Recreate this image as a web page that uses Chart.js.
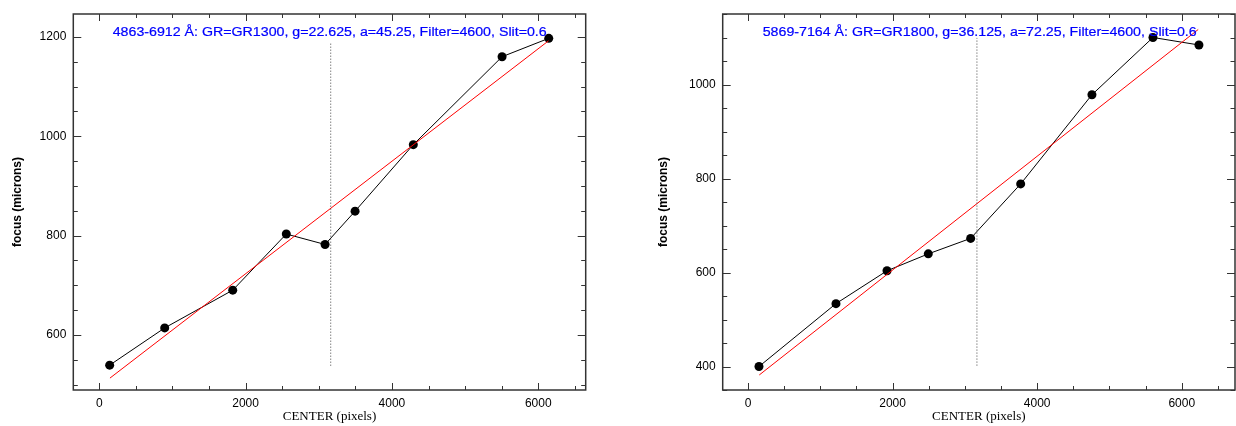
<!DOCTYPE html>
<html><head><meta charset="utf-8">
<script src="https://cdn.jsdelivr.net/npm/chart.js@4.4.0/dist/chart.umd.min.js"></script>
<style>html,body{margin:0;padding:0;background:#fff;overflow:hidden}
canvas{position:absolute;top:0}
</style></head><body>
<canvas id="c1" width="618" height="426" style="left:0"></canvas>
<canvas id="c2" width="618" height="426" style="left:618px"></canvas>
<script>
// ----- Left panel data -----
const leftCenter = [142, 894, 1824, 2556, 3086, 3496, 4292, 5505, 6143];
const leftFocus  = [539, 614, 690, 803, 782, 849, 983, 1160, 1197];
const leftFitX   = [146, 6140];
const leftFitY   = [513, 1192];
const leftRefX   = [3163, 3163];
const leftRefY   = [538, 1190];
const leftTitle  = "4863-6912 Å: GR=GR1300, g=22.625, a=45.25, Filter=4600, Slit=0.6";
const leftXRange = [-355, 6648];
const leftYRange = [489, 1246];
const leftXTicks = [0, 2000, 4000, 6000];
const leftYTicks = [600, 800, 1000, 1200];

// ----- Right panel data -----
const rightCenter = [152, 1217, 1923, 2494, 3080, 3772, 4758, 5602, 6238];
const rightFocus  = [400, 534, 604, 640, 673, 789, 979, 1101, 1085];
const rightFitX   = [156, 6228];
const rightFitY   = [382, 1118];
const rightRefX   = [3167, 3167];
const rightRefY   = [402, 1100];
const rightTitle  = "5869-7164 Å: GR=GR1800, g=36.125, a=72.25, Filter=4600, Slit=0.6";
const rightXRange = [-350, 6737];
const rightYRange = [350, 1151];
const rightXTicks = [0, 2000, 4000, 6000];
const rightYTicks = [400, 600, 800, 1000];

const xMajorStep = 2000, xMinorStep = 500;
const yMajorStep = 200,  yMinorStep = 50;
const xTitle = "CENTER (pixels)";
const yTitle = "focus (microns)";

const zip = (xs, ys) => xs.map((x, i) => ({x, y: ys[i]}));

const framePlugin = {
  id: 'frame',
  afterDatasetsDraw(chart) {
    const {ctx, chartArea: a, scales: {x, y}} = chart;
    ctx.save();
    ctx.strokeStyle = '#333';
    ctx.lineWidth = 1.5;
    ctx.strokeRect(a.left, a.top, a.right - a.left, a.bottom - a.top);
    ctx.lineWidth = 1;
    ctx.beginPath();
    const xs = Math.ceil(x.min / xMinorStep) * xMinorStep;
    for (let v = xs; v <= x.max; v += xMinorStep) {
      const p = Math.round(x.getPixelForValue(v)) + 0.5;
      const L = (v % xMajorStep === 0) ? 7 : 4;
      ctx.moveTo(p, a.bottom); ctx.lineTo(p, a.bottom - L);
      ctx.moveTo(p, a.top); ctx.lineTo(p, a.top + L);
    }
    const ys = Math.ceil(y.min / yMinorStep) * yMinorStep;
    for (let v = ys; v <= y.max; v += yMinorStep) {
      const p = Math.round(y.getPixelForValue(v)) + 0.5;
      const L = (v % yMajorStep === 0) ? 8 : 4.5;
      ctx.moveTo(a.left, p); ctx.lineTo(a.left + L, p);
      ctx.moveTo(a.right, p); ctx.lineTo(a.right - L, p);
    }
    ctx.stroke();
    // panel caption
    const o = chart.options.plugins.frame;
    ctx.font = '12px "Liberation Sans", Arial, sans-serif';
    ctx.fillStyle = '#0000ff';
    ctx.strokeStyle = '#0000ff';
    ctx.lineWidth = 0.2;
    ctx.textBaseline = 'alphabetic';
    const w = ctx.measureText(o.text).width;
    ctx.translate(a.left + o.dx, a.top + 22);
    ctx.scale(o.width / w, 1);
    ctx.fillText(o.text, 0, 0);
    ctx.strokeText(o.text, 0, 0);
    ctx.restore();
  }
};

function makeChart(id, cx, cy, fx, fy, rx, ry, title, xr, yr, xt, yt, yW, padRight, yTitlePad, dx) {
  return new Chart(document.getElementById(id), {
    type: 'scatter',
    data: {
      datasets: [
        {data: zip(rx, ry), showLine: true, borderColor: '#444', borderWidth: 1, borderDash: [1, 2], pointRadius: 0},
        {data: zip(fx, fy), showLine: true, borderColor: '#ff0000', borderWidth: 1, pointRadius: 0},
        {data: zip(cx, cy), showLine: true, borderColor: '#000', borderWidth: 1,
         pointRadius: 4.5, pointBackgroundColor: '#000', pointBorderColor: '#000', pointBorderWidth: 0}
      ]
    },
    options: {
      responsive: false, animation: false, events: [],
      layout: {autoPadding: false, padding: {top: 14, right: padRight, left: 0, bottom: 0}},
      plugins: {legend: {display: false}, tooltip: {enabled: false},
        frame: {text: title, dx: dx, width: 434}},
      scales: {
        x: {type: 'linear', min: xr[0], max: xr[1],
          grid: {display: false, drawTicks: false}, border: {display: false},
          afterBuildTicks: s => { s.ticks = xt.map(v => ({value: v})); },
          ticks: {padding: 6, color: '#000', maxRotation: 0, autoSkip: false,
            callback: v => String(v),
            font: {family: '"Liberation Sans", Arial, sans-serif', size: 12}},
          title: {display: true, text: xTitle, color: '#000', padding: {top: 0, bottom: 2},
            font: {family: '"Liberation Serif", "Times New Roman", serif', size: 13}},
          afterFit: s => { s.height = 36; s.paddingLeft = 0; s.paddingRight = 0; }
        },
        y: {type: 'linear', min: yr[0], max: yr[1],
          grid: {display: false, drawTicks: false}, border: {display: false},
          afterBuildTicks: s => { s.ticks = yt.map(v => ({value: v})); },
          ticks: {padding: 7, color: '#000', autoSkip: false,
            callback: v => String(v),
            font: {family: '"Liberation Sans", Arial, sans-serif', size: 12}},
          title: {display: true, text: yTitle, color: '#000', padding: {top: yTitlePad, bottom: 0},
            font: {family: '"Liberation Sans", Arial, sans-serif', size: 12, weight: 'bold'}},
          afterFit: s => { s.width = yW; s.paddingTop = 0; s.paddingBottom = 0; }
        }
      }
    },
    plugins: [framePlugin]
  });
}

makeChart('c1', leftCenter, leftFocus, leftFitX, leftFitY, leftRefX, leftRefY, leftTitle,
  leftXRange, leftYRange, leftXTicks, leftYTicks, 73.3, 32.3, 10, 39.4);
makeChart('c2', rightCenter, rightFocus, rightFitX, rightFitY, rightRefX, rightRefY, rightTitle,
  rightXRange, rightYRange, rightXTicks, rightYTicks, 104.7, 1, 38, 40);
</script>
</body></html>
